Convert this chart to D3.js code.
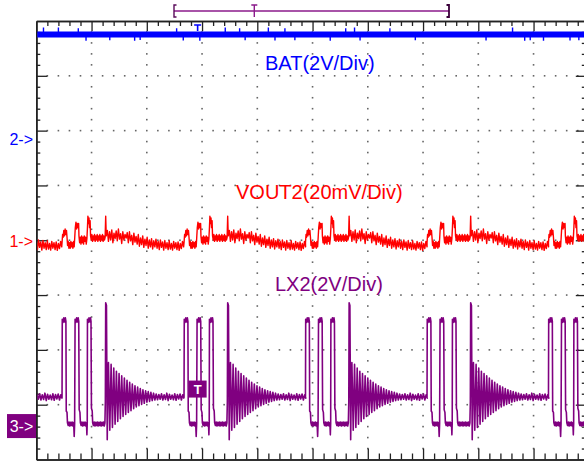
<!DOCTYPE html>
<html><head><meta charset="utf-8">
<script src="https://cdn.jsdelivr.net/npm/d3@7"></script>
<style>html,body{margin:0;padding:0;background:#fff;overflow:hidden}text{font-family:"Liberation Sans",Arial,sans-serif}</style>
</head><body>
<svg id="c" width="584" height="462"></svg>
<script>
// ---------------- data (time in record samples, 50 samples / division) ----------------
const burstStarts = [-87, 23.3, 133.7, 243.6, 353.6, 463.5];

// LX2 switching node, volts, offsets from burst start
const lx2Template = [
 [0,1.05],[0.2,3.9],[0.9,3.78],[1.6,3.95],[2.3,3.8],[3,3.95],[3.5,3.82],[3.8,0.55],[4.5,0.5],[4.9,0.12],
 [5.6,0.02],[6.3,0.15],[7,0.0],[7.7,0.14],[8.4,0.02],[9.1,0.15],[9.8,0.0],[10.5,0.13],[11.0,-0.38],[11.4,0.1],
 [11.8,3.9],[12.5,3.78],[13.2,3.95],[13.9,3.8],[14.6,3.95],[15.1,3.82],[15.5,0.6],[16.2,0.5],[16.6,0.12],
 [17.3,0.02],[18,0.15],[18.7,0.0],[19.4,0.14],[20.1,0.02],[20.8,0.15],[21.5,0.0],[22.1,0.12],[22.5,-0.32],[22.8,0.1],
 [23.0,3.9],[23.7,3.78],[24.4,3.95],[25.1,3.8],[25.8,3.95],[26.2,3.82],[26.6,0.65],[27.3,0.55],[27.7,0.12],
 [28.4,0.02],[29.1,0.15],[29.8,0.0],[30.5,0.14],[31.2,0.02],[31.9,0.15],[32.6,0.0],[33.3,0.14],[34,0.02],
 [34.7,0.15],[35.4,0.0],[36.1,0.14],[36.8,0.02],[37.5,0.15],[38.2,0.0],[38.8,0.12],[39.2,0.9],[39.5,4.5],
 [40.2,4.4],[40.9,-0.5],[41.4,1.2],
 [42.0,2.32],[43.2,-0.15],[44.4,2.25],[45.6,-0.05],[46.8,2.12],[48.0,0.07],[49.2,2.0],[50.4,0.17],[51.6,1.92],
 [52.8,0.27],[54.0,1.83],[55.2,0.35],[56.4,1.75],[57.6,0.42],[58.8,1.67],[60.0,0.5],[61.2,1.6],[62.4,0.56],
 [63.6,1.53],[64.8,0.63],[66.0,1.47],[67.2,0.7],[68.4,1.42],[69.6,0.74],[70.8,1.37],[72.0,0.79],[73.2,1.32],
 [74.4,0.83],[75.6,1.29],[76.8,0.87],[78.0,1.26],[79.2,0.9],[80.4,1.23],[81.6,0.93],[82.8,1.2],[84.0,0.95],
 [85.2,1.17],[86.4,0.96],[87.6,1.15],[88.8,0.98],[90,1.18],[91.2,0.95],[92.4,1.14],[93.6,0.97],[94.8,1.2],
 [96,0.93],[97.2,1.16],[98.4,0.98],[99.6,1.13],[100.8,0.96],[102,1.18],[103.2,0.94],[104.4,1.15],[105.6,0.99],
 [106.8,1.17],[108,0.95],[109.2,1.14],[110.2,1.02]
];

// VOUT2 ripple, millivolts, offsets from burst start
const vout2Template = [
 [0,-0.5],[0.5,2.5],[1,1.5],[1.6,4],[2.2,2],[2.8,4.5],[3.4,2.5],[4,4],[4.5,1.5],[5,-1.5],[5.6,0],[6.2,-2.5],
 [6.8,-0.5],[7.4,-2.5],[8,0],[8.6,-2],[9.2,-0.5],[9.8,-2.5],[10.4,0],[11,-2],[11.5,1.5],[12,5],[12.6,7],
 [13.2,4.5],[13.8,6.5],[14.4,5],[15,6.5],[15.3,2],[15.9,-0.5],[16.5,1.5],[17.1,-1],[17.7,2],[18.3,-0.5],
 [18.9,1.5],[19.5,-1],[20.1,2],[20.7,0],[21.3,1.5],[21.9,-1],[22.5,1],[23,5],[23.4,9.2],[23.9,6.5],[24.4,8.5],
 [24.9,5],[25.4,7.5],[25.8,2],[26.4,0.5],[27,2.5],[27.6,0],[28.2,2],[28.8,0.5],[29.4,2.5],[30,0],[30.6,2],
 [31.2,0.5],[31.8,2.5],[32.4,0],[33,2],[33.6,0.5],[34.2,2.5],[34.8,0],[35.4,2],[36,0.5],[36.6,2.5],[37.2,0],
 [37.8,2],[38.4,0.5],[39,1.5],[39.5,9.2],[40,2],
 [41,4],[42,0],[43,3.5],[44,0.5],[45,4.2],[46,-0.5],[47,3],[48,1],[49,3.8],[50,0.2],[51,4.5],[52,0.8],[53,2.8],
 [54,-0.8],[55,3.5],[56,0.5],[57,2.5],[58,1.2],[59,3.2],[60,-0.5],[61,3.5],[62,0.2],[63,2.2],[64,-1.2],[65,3],
 [66,-0.3],[67,1.8],[68,-1],[69,2.5],[70,-1.8],[71,1.2],[72,-1.2],[73,2],[74,-2.2],[75,0.8],[76,-1.5],[77,1.5],
 [78,-2.5],[79,0.5],[80,-2],[81,1],[82,-2.8],[83,0.2],[84,-2],[85,0.8],[86,-2.5],[87,0],[88,-3],[89,0.5],
 [90,-2.2],[91,-0.2],[92,-3.2],[93,0.3],[94,-2.5],[95,-0.5],[96,-3],[97,0.2],[98,-2.8],[99,-0.8],[100,-3.2],
 [101,0],[102,-2.5],[103,-0.5],[104,-3],[105,-0.2],[106,-3.3],[107,-0.8],[108,-2.6],[109,0],[110,-2]
];

// BAT, volts
const batLevel = 3.85;
const batGlitches = [
 [6.5,4.1],[20,4.1],[38,4.08],[45,3.62],[66.5,3.64],[89,3.62],[94,3.65],[127,4.08],[133,3.63],[148,3.62],
 [171,4.1],[184,4.08],[189,3.64],[210,4.1],[216,3.63],[225,4.08],[234,3.64],[266,3.62],[280,4.08],[288,4.1],
 [293,3.63],[320,4.08],[343,3.64],[407,3.63],[431,4.1],[442,3.62],[447,3.64],[459,3.62],[483,3.63],[491,3.64]
];

const triggerSample = 146;
const triggerLevel = 1.35;   // volts on LX2

// channel settings: volts(or mV)/div and ground position in divisions from bottom
const chNames   = ["VOUT2", "BAT", "LX2"];
const chLabels  = ["VOUT2(20mV/Div)", "BAT(2V/Div)", "LX2(2V/Div)"];
const chPerDiv  = [20, 2, 2];
const chOffset  = [3.98, 5.83, 0.61];
const chMarkers = ["1->", "2->", "3->"];

// ---------------- drawing ----------------
const W = 584, H = 462;
const L = 36.3, R = 588.8, T = 21, B = 459.5;
const svg = d3.select("#c");
svg.append("rect").attr("width", W).attr("height", H).attr("fill", "#fff");

const x = d3.scaleLinear().domain([0, 500]).range([L, R]);
const yDiv = d3.scaleLinear().domain([0, 8]).range([B, T]);
const chY = i => v => yDiv(chOffset[i] + v / chPerDiv[i]);
const colors = ["#ff0000", "#0000ff", "#800080"];

// grid dots
const gDots = svg.append("g").attr("fill", "#666");
const majX = d3.range(50, 500, 50), minX = d3.range(10, 500, 10);
const majY = d3.range(1, 8, 1), minY = d3.range(1, 40).map(k => k / 5);
const dots = [];
majX.forEach(s => minY.forEach(d => dots.push([x(s), yDiv(d)])));
majY.forEach(d => minX.forEach(s => { if (s % 50) dots.push([x(s), yDiv(d)]); }));
gDots.selectAll("rect").data(dots).join("rect")
  .attr("x", d => d[0] - 0.8).attr("y", d => d[1] - 0.8).attr("width", 1.6).attr("height", 1.6);

// frame with ticks via d3 axes
function frame(axisFn, scale, vals, size, tr) {
  const g = svg.append("g").attr("transform", tr)
    .call(axisFn(scale).tickValues(vals).tickSize(size).tickSizeOuter(0).tickFormat(""));
  g.select(".domain").attr("stroke", "#222").attr("stroke-width", 1.6);
  g.selectAll(".tick line").attr("stroke", "#222").attr("stroke-width", 1.3);
}
const xMinorT = d3.range(10, 500, 10).filter(v => v % 50), xMajorT = d3.range(50, 500, 50);
const yMinorT = d3.range(1, 40).map(k => k / 5).filter(v => Math.abs(v - Math.round(v)) > 1e-6), yMajorT = d3.range(1, 8);
frame(d3.axisBottom, x, xMinorT, 5, `translate(0,${T})`);
frame(d3.axisBottom, x, xMajorT, 10, `translate(0,${T})`);
frame(d3.axisTop, x, xMinorT, 6, `translate(0,${B})`);
frame(d3.axisTop, x, xMajorT, 11, `translate(0,${B})`);
frame(d3.axisRight, yDiv, yMinorT, 4, `translate(${L},0)`);
frame(d3.axisRight, yDiv, yMajorT, 11, `translate(${L},0)`);
frame(d3.axisLeft, yDiv, yMinorT, 7, `translate(${R},0)`);
frame(d3.axisLeft, yDiv, yMajorT, 13, `translate(${R},0)`);

// clip
svg.append("clipPath").attr("id", "clip").append("rect")
  .attr("x", L + 1).attr("y", T + 1).attr("width", R - L - 2).attr("height", B - T - 2);
const plot = svg.append("g").attr("clip-path", "url(#clip)");

function expand(tpl) {
  const out = [];
  burstStarts.forEach(b => tpl.forEach(p => out.push([b + p[0], p[1]])));
  return out;
}

// BAT (channel 2)
const yBat = chY(1);
plot.append("line").attr("x1", x(0)).attr("x2", x(500)).attr("y1", yBat(batLevel)).attr("y2", yBat(batLevel))
  .attr("stroke", colors[1]).attr("stroke-width", 6);
plot.append("g").selectAll("line").data(batGlitches).join("line")
  .attr("x1", d => x(d[0])).attr("x2", d => x(d[0]))
  .attr("y1", yBat(batLevel)).attr("y2", d => yBat(d[1]))
  .attr("stroke", colors[1]).attr("stroke-width", 1.4);

// VOUT2 (channel 1)
const yV = chY(0);
plot.append("path").datum(expand(vout2Template))
  .attr("d", d3.line().x(d => x(d[0])).y(d => yV(d[1])))
  .attr("fill", "none").attr("stroke", colors[0]).attr("stroke-width", 1.4).attr("stroke-linejoin", "round");

// LX2 (channel 3)
const yL = chY(2);
plot.append("path").datum(expand(lx2Template))
  .attr("d", d3.line().x(d => x(d[0])).y(d => yL(d[1])))
  .attr("fill", "none").attr("stroke", colors[2]).attr("stroke-width", 1.6).attr("stroke-linejoin", "round");

// channel labels
const labelPos = [[236, 199], [265, 70], [275, 291]];
chLabels.forEach((t, i) => svg.append("text").attr("x", labelPos[i][0]).attr("y", labelPos[i][1])
  .attr("font-size", 20).attr("fill", colors[i]).text(t));

// ground markers
[0, 1].forEach(i => svg.append("text").attr("x", 33).attr("y", chY(i)(0) + 5.5)
  .attr("text-anchor", "end").attr("font-size", 16).attr("fill", colors[i]).text(chMarkers[i]));
const y3 = chY(2)(0);
svg.append("rect").attr("x", 7).attr("y", y3 - 12).attr("width", 29).attr("height", 24).attr("fill", colors[2]);
svg.append("text").attr("x", 21.5).attr("y", y3 + 5.5).attr("text-anchor", "middle")
  .attr("font-size", 16).attr("fill", "#fff").text(chMarkers[2]);

// trigger level marker on LX2
const tx = x(triggerSample), ty = yL(triggerLevel);
svg.append("rect").attr("x", tx - 9).attr("y", ty - 8.5).attr("width", 18).attr("height", 17).attr("fill", colors[2]);
svg.append("text").attr("x", tx).attr("y", ty + 5).attr("text-anchor", "middle")
  .attr("font-size", 13).attr("font-weight", "bold").attr("fill", "#fff").text("T");

// trigger position marker at top (blue T)
svg.append("path").attr("d", `M${tx - 3.5},25H${tx + 3.5}M${tx},25V31`)
  .attr("stroke", colors[1]).attr("stroke-width", 1.6).attr("fill", "none");

// record bracket
const rec = d3.scaleLinear().domain([0, 500]).range([174, 449]);
const br = svg.append("g").attr("fill", "none").attr("stroke-width", 1.4);
br.append("path").attr("d", `M${rec(0)},11H${rec(500)}`).attr("stroke", "#8b1a8b");
br.append("path").attr("d", `M${rec(0) + 2.5},5H${rec(0)}V17H${rec(0) + 2.5}`).attr("stroke", "#5a0a5a");
br.append("path").attr("d", `M${rec(500) - 2.5},5H${rec(500)}V17H${rec(500) - 2.5}`).attr("stroke", "#3a003a").attr("stroke-width", 1.8);
br.append("path").attr("d", `M${rec(triggerSample) - 3},5H${rec(triggerSample) + 3}M${rec(triggerSample)},5V17`).attr("stroke", "#8b1a8b");
</script>
</body></html>
